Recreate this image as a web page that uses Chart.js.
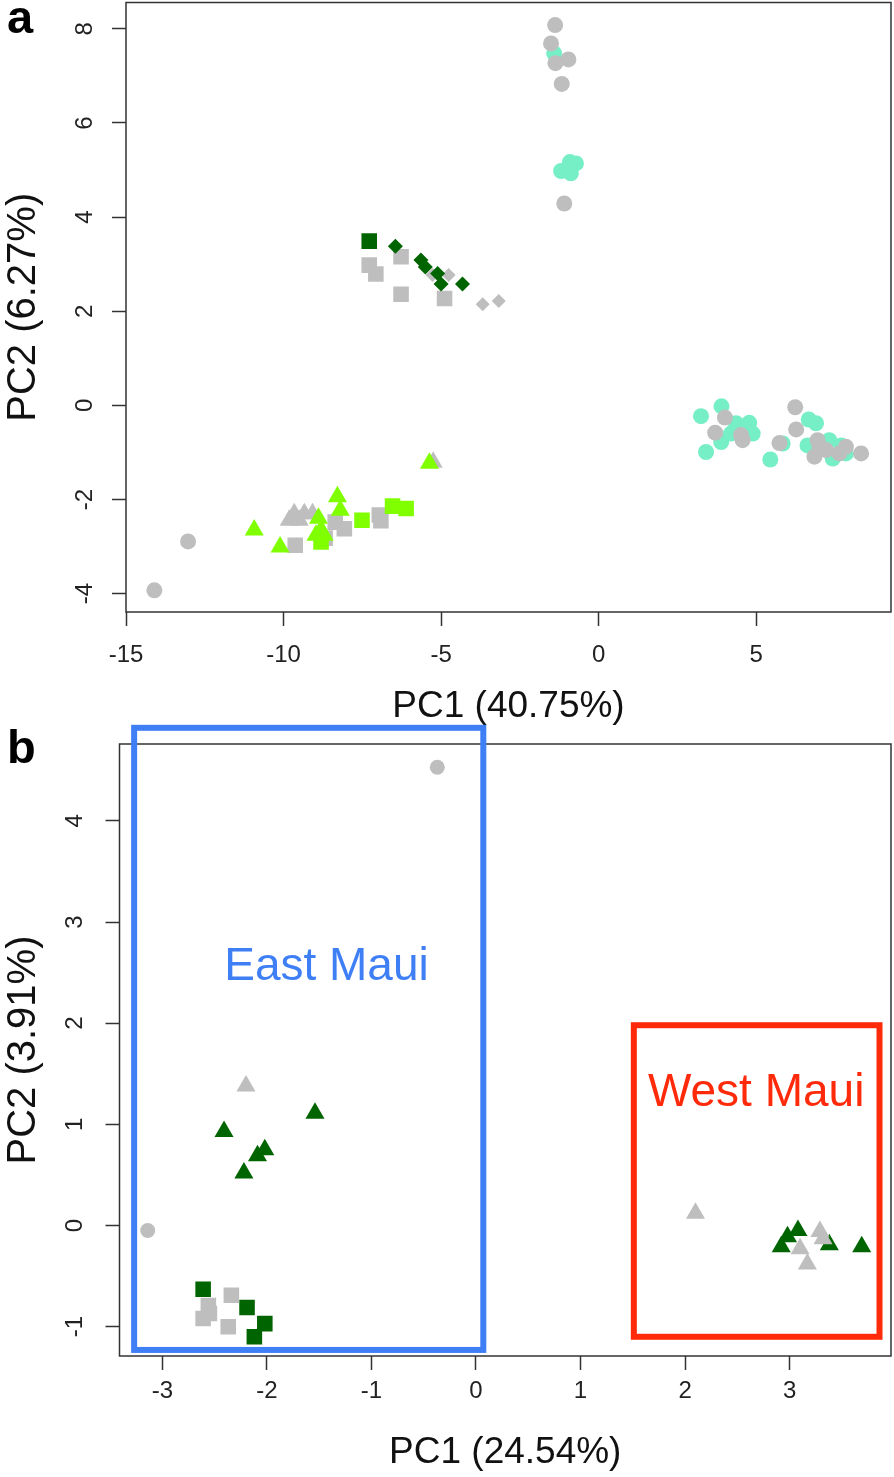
<!DOCTYPE html>
<html>
<head>
<meta charset="utf-8">
<script src="https://cdn.jsdelivr.net/npm/chart.js@4.4.1/dist/chart.umd.min.js"></script>
<style>
  body { margin:0; background:#fff; width:894px; height:1477px; position:relative; overflow:hidden; font-family:"Liberation Sans", Arial, sans-serif; }
  canvas { position:absolute; left:0; }
  #chartA { top:0; }
  #chartB { top:715px; }
  .panel { position:absolute; left:7px; font-weight:bold; font-size:47px; line-height:1; color:#000; }
</style>
</head>
<body>
<canvas id="chartA" width="894" height="735"></canvas>
<canvas id="chartB" width="894" height="762"></canvas>
<div class="panel" style="top:-7px">a</div>
<div class="panel" style="top:723px">b</div>
<script>
// ---- panel a : PC1 (40.75%) vs PC2 (6.27%) ----
var aGreyCircles = [[-1.38,8.08],[-1.51,7.69],[-1.37,7.27],[-0.96,7.35],[-1.17,6.83],[-1.09,4.29],
  [-13.03,-2.89],[-14.10,-3.93],
  [4.01,-0.26],[3.70,-0.58],[4.52,-0.63],[4.57,-0.74],[6.24,-0.04],[6.27,-0.51],[5.74,-0.80],
  [6.95,-0.74],[6.85,-1.09],[7.22,-0.95],[7.64,-1.02],[7.85,-0.88],[8.33,-1.02],[7.01,-0.88]];
var aTurqCircles = [[-1.41,7.48],[-0.91,5.17],[-0.72,5.14],[-1.19,4.98],[-0.88,4.93],
  [3.90,-0.02],[3.25,-0.23],[3.41,-0.99],[4.36,-0.38],[4.78,-0.37],[4.89,-0.60],[3.89,-0.78],[4.20,-0.60],
  [6.67,-0.30],[6.90,-0.38],[5.45,-1.15],[5.84,-0.81],[6.63,-0.85],[7.32,-0.74],[7.43,-1.13],[7.70,-0.85],[7.85,-1.02]];
var aDarkSquares = [[-7.28,3.49]];
var aDarkDiamonds = [[-6.45,3.38],[-5.64,3.09],[-5.50,2.94],[-5.11,2.80],[-5.00,2.58],[-4.32,2.58]];
var aGreyDiamonds = [[-5.27,2.77],[-4.76,2.77],[-3.68,2.15],[-3.17,2.22]];
var aGreySquares = [[-7.28,2.98],[-7.07,2.79],[-6.27,3.16],[-6.27,2.36],[-4.89,2.27],
  [-9.63,-2.97],[-8.07,-2.62],[-8.36,-2.48],[-6.96,-2.33],[-6.91,-2.45],[-8.68,-2.82]];
var aLimeTriangles = [[-10.93,-2.65],[-10.11,-3.01],[-8.29,-1.94],[-8.20,-2.23],[-8.89,-2.40],
  [-8.81,-2.65],[-8.71,-2.76],[-8.97,-2.76],[-5.37,-1.23]];
var aGreyTriangles = [[-9.66,-2.30],[-9.34,-2.30],[-9.08,-2.30],[-9.82,-2.44],[-9.50,-2.44],[-5.25,-1.21]];
var aLimeSquares = [[-7.51,-2.44],[-6.54,-2.14],[-6.11,-2.19],[-8.81,-2.90]];

var aXRange = [-15, 9.28], aYRange = [-4.39, 8.56];
var aXTicks = [-15, -10, -5, 0, 5];
var aYTicks = [-4, -2, 0, 2, 4, 6, 8];

// ---- panel b : PC1 (24.54%) vs PC2 (3.91%) ----
var bGreyCircles = [[-0.37,4.53],[-3.14,-0.05]];
var bDarkTriangles = [[-1.54,1.11],[-2.41,0.93],[-2.02,0.75],[-2.09,0.69],[-2.22,0.52],
  [2.98,-0.11],[3.08,-0.05],[2.92,-0.21],[3.38,-0.19],[3.69,-0.21]];
var bGreyTriangles = [[-2.20,1.38],[2.10,0.12],[3.10,-0.23],[3.29,-0.06],[3.32,-0.13],[3.17,-0.38]];
var bDarkSquares = [[-2.61,-0.63],[-2.19,-0.81],[-2.02,-0.97],[-2.12,-1.10]];
var bGreySquares = [[-2.56,-0.79],[-2.61,-0.92],[-2.34,-0.69],[-2.37,-1.00],[-2.55,-0.87]];

var bXRange = [-3.41, 3.97], bYRange = [-1.29, 4.76];
var bXTicks = [-3, -2, -1, 0, 1, 2, 3];
var bYTicks = [-1, 0, 1, 2, 3, 4];

// region boxes in data units: [xmin, xmax, ymin, ymax]
var eastBox = [-3.27, 0.07, -1.23, 4.92];
var westBox = [1.51, 3.86, -1.10, 1.98];
var eastLabel = [-1.43, 2.55];
var westLabel = [2.68, 1.31];

var FONT = '"Liberation Sans", Arial, sans-serif';
var GREY = '#bebebe', TURQ = '#76eec6', DARK = '#006400', LIME = '#7fff00';

function pts(list) {
  return list.map(function(p){ return {x: p[0], y: p[1]}; });
}

function ds(list, color, style, r) {
  return {
    data: pts(list),
    pointStyle: style,
    pointRadius: r,
    pointHoverRadius: r,
    backgroundColor: color,
    borderColor: color,
    borderWidth: 0
  };
}

function axis(range, ticks, title, horiz, size, tickPad, titlePad) {
  return {
    type: 'linear',
    min: range[0],
    max: range[1],
    afterBuildTicks: function(s){ s.ticks = ticks.map(function(v){ return {value: v}; }); },
    afterFit: function(s){
      if (horiz) s.height = size; else s.width = size;
      s.paddingTop = 0; s.paddingBottom = 0; s.paddingLeft = 0; s.paddingRight = 0;
    },
    grid: { drawOnChartArea: false, drawTicks: true, tickLength: 14, tickColor: '#333', tickWidth: 1.5 },
    border: { display: false },
    ticks: {
      color: '#222', padding: tickPad, font: { family: FONT, size: 24 },
      minRotation: horiz ? 0 : 90, maxRotation: horiz ? 0 : 90,
      crossAlign: 'center',
      callback: function(v){ return String(v); }
    },
    title: { display: true, text: title, color: '#111', font: { family: FONT, size: horiz ? 37 : 40 }, padding: titlePad }
  };
}

// box round the plot area
var frame = {
  id: 'frame',
  beforeDatasetsDraw: function(chart) {
    var a = chart.chartArea, ctx = chart.ctx;
    ctx.save();
    ctx.strokeStyle = '#333';
    ctx.lineWidth = 1.5;
    ctx.strokeRect(a.left, a.top, a.right - a.left, a.bottom - a.top);
    ctx.restore();
  }
};

// East / West Maui boxes
var regions = {
  id: 'regions',
  afterDraw: function(chart) {
    var x = chart.scales.x, y = chart.scales.y, ctx = chart.ctx;
    function box(b, color, label, pos) {
      var l = x.getPixelForValue(b[0]), r = x.getPixelForValue(b[1]);
      var t = y.getPixelForValue(b[3]), bt = y.getPixelForValue(b[2]);
      ctx.save();
      ctx.strokeStyle = color;
      ctx.lineWidth = 6;
      ctx.strokeRect(l, t, r - l, bt - t);
      ctx.fillStyle = color;
      ctx.font = '46px ' + FONT;
      ctx.textAlign = 'center';
      ctx.textBaseline = 'middle';
      ctx.fillText(label, x.getPixelForValue(pos[0]), y.getPixelForValue(pos[1]));
      ctx.restore();
    }
    box(eastBox, '#3f7ff5', 'East Maui', eastLabel);
    box(westBox, '#ff2a0a', 'West Maui', westLabel);
  }
};

var baseOpts = {
  responsive: false,
  animation: false,
  events: [],
  plugins: { legend: { display: false }, tooltip: { enabled: false } }
};

new Chart(document.getElementById('chartA'), {
  type: 'scatter',
  data: { datasets: [
    ds(aGreyCircles, GREY, 'circle', 8),
    ds(aDarkSquares, DARK, 'rect', 11),
    ds(aDarkDiamonds, DARK, 'rectRot', 7.5),
    ds(aLimeTriangles, LIME, 'triangle', 11),
    ds(aLimeSquares, LIME, 'rect', 11),
    ds(aGreyDiamonds, GREY, 'rectRot', 7),
    ds(aGreySquares, GREY, 'rect', 11),
    ds(aGreyTriangles, GREY, 'triangle', 11),
    ds(aTurqCircles, TURQ, 'circle', 8)
  ]},
  options: Object.assign({}, baseOpts, {
    layout: { autoPadding: false, padding: { left: 0, right: 3, top: 2.5, bottom: 0 } },
    scales: {
      x: axis(aXRange, aXTicks, 'PC1 (40.75%)', true, 123, 29, { top: 0, bottom: 6 }),
      y: axis(aYRange, aYTicks, 'PC2 (6.27%)', false, 126, 16, { top: 0, bottom: 0 })
    }
  }),
  plugins: [frame]
});

new Chart(document.getElementById('chartB'), {
  type: 'scatter',
  data: { datasets: [
    ds(bGreyCircles, GREY, 'circle', 7.5),
    ds(bGreyTriangles, GREY, 'triangle', 11),
    ds(bGreySquares, GREY, 'rect', 11),
    ds(bDarkTriangles, DARK, 'triangle', 11),
    ds(bDarkSquares, DARK, 'rect', 11)
  ]},
  options: Object.assign({}, baseOpts, {
    layout: { autoPadding: false, padding: { left: 0, right: 3, top: 29, bottom: 0 } },
    scales: {
      x: axis(bXRange, bXTicks, 'PC1 (24.54%)', true, 121, 21, { top: 0, bottom: 2 }),
      y: axis(bYRange, bYTicks, 'PC2 (3.91%)', false, 119.5, 19, { top: 0, bottom: 0 })
    }
  }),
  plugins: [frame, regions]
});
</script>
</body>
</html>
